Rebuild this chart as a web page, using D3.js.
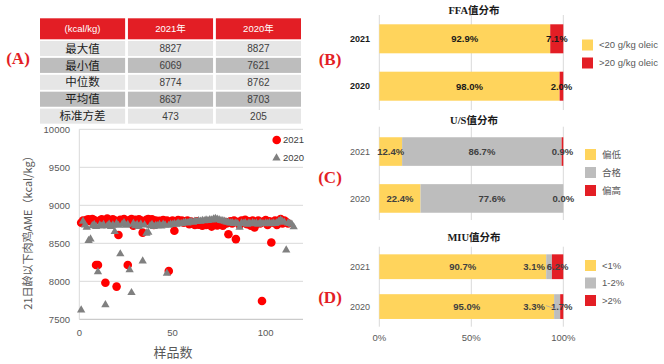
<!DOCTYPE html>
<html><head><meta charset="utf-8">
<script src="https://cdn.jsdelivr.net/npm/d3@7"></script>
<style>body{margin:0;background:#fff}svg{display:block}</style>
</head><body><svg id="c" width="664" height="364"></svg>
<script>
// ---------------- DATA ----------------
const tableHeader = ["(kcal/kg)", "2021年", "2020年"];
const tableRows = ["最大值", "最小值", "中位数", "平均值", "标准方差"];
const table2021 = [8827, 6069, 8774, 8637, 473];
const table2020 = [8827, 7621, 8762, 8703, 205];

const ame2021 = [8770,8800,8790,8810,8815,8790,8820,8805,8215,8215,8800,8815,8790,7980,8827,8805,8790,8815,8800,7930,
8610,8810,8790,8820,8795,8215,8805,8820,8730,8810,8790,8815,8800,8640,8780,8810,8820,8790,8815,8740,
8800,8780,8795,8760,8805,8785,8800,8135,8775,8800,8665,8790,8805,8780,8800,8770,8790,8800,8750,8785,
8760,8740,8790,8745,8760,8730,8780,8740,8750,8790,8720,8760,8800,8735,8770,8750,8730,8780,8760,8620,
8790,8760,8800,8555,8780,8740,8800,8770,8810,8750,8790,8730,8800,8710,8780,8800,8760,7740,8790,8805,
8740,8790,8510,8770,8800,8740,8790,8820,8760,8800,8780,8760];
const ame2020 = [7620,8790,8740,8710,8535,8555,8730,8745,8720,8125,8740,8725,8745,7690,8730,8750,8720,8740,8655,8760,
8735,8360,8750,8770,8735,8745,8150,7850,8760,8730,8745,8720,8750,8265,8740,8630,8645,8730,8745,8720,
8735,8730,8745,8725,8750,8740,8105,8735,8750,8745,8755,8750,8765,8755,8760,8770,8775,8765,8780,8785,
8775,8790,8785,8795,8790,8800,8795,8805,8800,8810,8805,8820,8827,8815,8810,8800,8795,8790,8780,8775,
8765,8770,8760,8765,8755,8710,8765,8760,8770,8750,8765,8755,8770,8760,8765,8750,8770,8760,8755,8765,
8760,8770,8755,8765,8760,8770,8790,8805,8785,8775,8410,8765,8760,8750,8715];
const scatterYTicks = [7500, 8000, 8500, 9000, 9500, 10000];
const scatterXTicks = [0, 50, 100];
const scatterLegend = ["2021", "2020"];

const barYears = ["2021", "2020"];
const pctTicks = [0, 50, 100];
const ffaSeries = ["<20 g/kg oleic", ">20 g/kg oleic"];
const ffaLow = [92.9, 98.0], ffaHigh = [7.1, 2.0];
const usSeries = ["偏低", "合格", "偏高"];
const usLow = [12.4, 22.4], usOk = [86.7, 77.6], usHigh = [0.9, 0.0];
const miuSeries = ["<1%", "1-2%", ">2%"];
const miuLow = [90.7, 95.0], miuMid = [3.1, 3.3], miuHigh = [6.2, 1.7];

// ---------------- DRAW ----------------
const svg = d3.select("#c");
const SANS = "'Liberation Sans', Arial, 'Noto Sans CJK SC', sans-serif";
const CJK = "'Noto Sans CJK SC', sans-serif";
const SERIF = "'Liberation Serif', 'Times New Roman', 'Noto Sans CJK SC', serif";
const RED = "#E31E25", YEL = "#FFD45C", GRY = "#BDBDBD";

// panel letters
[["(A)", 18, 64], ["(B)", 330, 65], ["(C)", 330, 183], ["(D)", 330, 303]].forEach(([t, x, y]) => {
  svg.append("text").attr("x", x).attr("y", y).attr("text-anchor", "middle")
    .attr("font-family", SERIF).attr("font-weight", "bold").attr("font-size", 17)
    .attr("fill", RED).text(t);
});

// ---- Table ----
const colX = d3.scaleBand().domain(d3.range(3)).range([40, 301]).paddingInner(0.032);
const rowY = d3.scaleBand().domain(d3.range(5)).range([40.6, 124]).paddingInner(0.11).paddingOuter(0.02);
const tg = svg.append("g");
tableHeader.forEach((h, j) => {
  tg.append("rect").attr("x", colX(j)).attr("y", 18.3).attr("width", colX.bandwidth()).attr("height", 21).attr("fill", RED);
  tg.append("text").attr("x", colX(j) + colX.bandwidth() / 2).attr("y", 29).attr("dy", "0.35em")
    .attr("text-anchor", "middle").attr("font-family", SANS).attr("font-size", 9.5).attr("fill", "#fff").text(h);
});
tableRows.forEach((r, i) => {
  const vals = [r, table2021[i], table2020[i]];
  vals.forEach((v, j) => {
    tg.append("rect").attr("x", colX(j)).attr("y", rowY(i)).attr("width", colX.bandwidth()).attr("height", rowY.bandwidth())
      .attr("fill", i % 2 === 0 ? "#E6E6E6" : "#BDBDBD");
    tg.append("text").attr("x", colX(j) + colX.bandwidth() / 2).attr("y", rowY(i) + rowY.bandwidth() / 2).attr("dy", "0.36em")
      .attr("text-anchor", "middle")
      .attr("font-family", j === 0 ? CJK : SANS).attr("font-size", j === 0 ? 11.5 : 10)
      .attr("fill", j === 0 ? "#1a1a1a" : "#404040").text(v);
  });
});

// ---- Scatter ----
const sx = d3.scaleLinear().domain([0, 120]).range([79.3, 303]);
const sy = d3.scaleLinear().domain([7500, 10000]).range([319.3, 129.3]);
const sg = svg.append("g");
scatterYTicks.forEach(t => {
  sg.append("line").attr("x1", sx(0)).attr("x2", sx(120)).attr("y1", sy(t)).attr("y2", sy(t))
    .attr("stroke", t === 7500 ? "#BFBFBF" : "#D9D9D9").attr("stroke-width", 1);
  sg.append("text").attr("x", 70).attr("y", sy(t)).attr("dy", "0.35em").attr("text-anchor", "end")
    .attr("font-family", SANS).attr("font-size", 9.5).attr("fill", "#595959").text(t);
});
sg.append("line").attr("x1", sx(0)).attr("x2", sx(0)).attr("y1", sy(10000)).attr("y2", sy(7500)).attr("stroke", "#D9D9D9");
scatterXTicks.forEach(t => {
  sg.append("text").attr("x", sx(t)).attr("y", 336).attr("text-anchor", "middle")
    .attr("font-family", SANS).attr("font-size", 9.5).attr("fill", "#595959").text(t);
});
sg.append("text").attr("x", 173).attr("y", 357).attr("text-anchor", "middle")
  .attr("font-family", CJK).attr("font-size", 13).attr("fill", "#595959").text("样品数");
sg.append("text").attr("transform", "translate(32,230) rotate(-90)").attr("text-anchor", "middle")
  .attr("font-family", CJK).attr("font-size", 11).attr("fill", "#595959").text("21日龄以下肉鸡AME（kcal/kg）");

const tri = d3.symbol().type(d3.symbolTriangle).size(30);
sg.append("g").selectAll("circle").data(ame2021).join("circle")
  .attr("cx", (d, i) => sx(i + 1)).attr("cy", d => sy(d)).attr("r", 4.3).attr("fill", "#FF0000");
sg.append("g").selectAll("path").data(ame2020).join("path")
  .attr("d", tri).attr("transform", (d, i) => `translate(${sx(i + 1)},${sy(d)})`).attr("fill", "#808080");
// legend
sg.append("circle").attr("cx", 276.7).attr("cy", 140).attr("r", 4.3).attr("fill", "#FF0000");
sg.append("path").attr("d", tri).attr("transform", "translate(276.5,158)").attr("fill", "#808080");
scatterLegend.forEach((t, i) => {
  sg.append("text").attr("x", 283).attr("y", 140 + i * 18).attr("dy", "0.35em")
    .attr("font-family", SANS).attr("font-size", 9.5).attr("fill", "#404040").text(t);
});

// ---- Stacked bars ----
const bx = d3.scaleLinear().domain([0, 100]).range([379.3, 563.3]);
function stacked(o) {
  const g = svg.append("g");
  const yb = d3.scaleBand().domain(barYears).range(o.range).paddingInner(o.pad).paddingOuter(o.pad / 2);
  pctTicks.forEach(t => {
    g.append("line").attr("x1", bx(t)).attr("x2", bx(t)).attr("y1", o.grid[0]).attr("y2", o.grid[1])
      .attr("stroke", "#D9D9D9");
  });
  g.append("text").attr("x", 474).attr("y", o.titleY).attr("text-anchor", "middle")
    .attr("font-family", SERIF).attr("font-weight", "bold").attr("font-size", 10.5).attr("fill", "#1a1a1a").text(o.title);
  barYears.forEach(y => {
    g.append("text").attr("x", 370).attr("y", yb(y) + yb.bandwidth() / 2).attr("dy", "0.35em").attr("text-anchor", "end")
      .attr("font-family", SANS).attr("font-size", 9).attr("font-weight", o.catBold ? "bold" : "normal")
      .attr("fill", o.catBold ? "#1a1a1a" : "#595959").text(y);
  });
  const rows = barYears.map((y, i) => { const r = { year: y }; o.series.forEach((s, k) => r[s] = o.values[k][i]); return r; });
  const st = d3.stack().keys(o.series)(rows);
  st.forEach((layer, k) => {
    g.append("g").selectAll("rect").data(layer).join("rect")
      .attr("x", d => bx(d[0])).attr("width", d => bx(d[1]) - bx(d[0]))
      .attr("y", d => yb(d.data.year)).attr("height", yb.bandwidth()).attr("fill", o.colors[k]);
  });
  st.forEach((layer, k) => {
    layer.forEach(d => {
      const cy = yb(d.data.year) + yb.bandwidth() / 2;
      const v = d[1] - d[0];
      let x = bx((d[0] + d[1]) / 2), anchor = "middle";
      if (o.labelAt && o.labelAt[k] != null) { x = bx(o.labelAt[k]); anchor = "end"; }
      g.append("text").attr("x", x).attr("y", cy).attr("dy", "0.35em").attr("text-anchor", anchor)
        .attr("font-family", SANS).attr("font-size", 9.5).attr("font-weight", "bold")
        .attr("fill", o.labelColor).text(v.toFixed(1) + "%");
    });
  });
  o.series.forEach((s, k) => {
    const ly = o.legendY + k * o.legendStep;
    g.append("rect").attr("x", o.legendX).attr("y", ly - 5.5).attr("width", 11).attr("height", 11).attr("fill", o.colors[k]);
    g.append("text").attr("x", o.legendX + 17).attr("y", ly).attr("dy", "0.35em")
      .attr("font-family", /[\u4e00-\u9fff]/.test(s) ? CJK : SANS).attr("font-size", 9.5).attr("fill", "#595959").text(s);
  });
  return { g, yb };
}
stacked({ title: "FFA值分布", titleY: 14, range: [15.1, 109.9], pad: 0.388, grid: [15, 110],
  series: ffaSeries, values: [ffaLow, ffaHigh], colors: [YEL, RED], catBold: true, labelColor: "#1a1a1a",
  legendX: 582, legendY: 45, legendStep: 18 });
stacked({ title: "U/S值分布", titleY: 124, range: [128.1, 221.9], pad: 0.39, grid: [126.7, 220],
  series: usSeries, values: [usLow, usOk, usHigh], colors: [YEL, GRY, RED], catBold: false, labelColor: "#404040",
  legendX: 585, legendY: 154.5, legendStep: 18 });
const miu = stacked({ title: "MIU值分布", titleY: 241, range: [246.8, 326.5], pad: 0.378, grid: [246.7, 326.7],
  series: miuSeries, values: [miuLow, miuMid, miuHigh], colors: [YEL, GRY, RED], catBold: false, labelColor: "#404040",
  labelAt: [null, 90, null], legendX: 585, legendY: 265.5, legendStep: 17.5 });
// leader line for 2020 middle label
{
  const yb = miu.yb, cy = yb("2020") + yb.bandwidth() / 2;
  miu.g.append("line").attr("x1", bx(90) + 1).attr("y1", cy - 1).attr("x2", bx(miuLow[1] + miuMid[1] / 2)).attr("y2", cy + 3)
    .attr("stroke", "#A6A6A6").attr("stroke-width", 0.8);
}
pctTicks.forEach(t => {
  svg.append("text").attr("x", bx(t)).attr("y", 341).attr("text-anchor", "middle")
    .attr("font-family", SANS).attr("font-size", 9.5).attr("fill", "#595959").text(t + "%");
});
</script></body></html>
